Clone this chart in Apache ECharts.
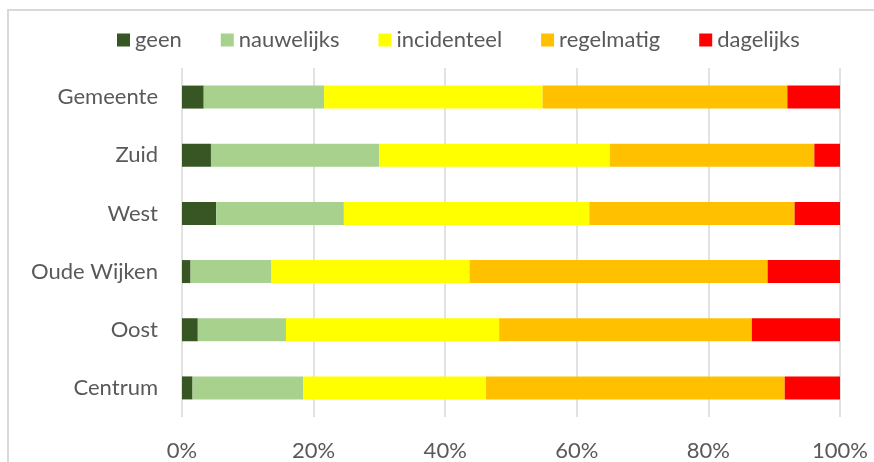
<!DOCTYPE html>
<html>
<head>
<meta charset="utf-8">
<script src="https://cdn.jsdelivr.net/npm/echarts@6/dist/echarts.min.js"></script>
<style>html,body{margin:0;padding:0;background:#fff;}#c{width:874px;height:462px;}</style>
</head>
<body>
<div id="c"></div>
<script>
var categories = ['Gemeente', 'Zuid', 'West', 'Oude Wijken', 'Oost', 'Centrum'];
var seriesNames = ['geen', 'nauwelijks', 'incidenteel', 'regelmatig', 'dagelijks'];
var geen        = [3.3, 4.4, 5.2, 1.3, 2.4, 1.6];
var nauwelijks  = [18.3, 25.6, 19.4, 12.3, 13.4, 16.8];
var incidenteel = [33.2, 35.0, 37.3, 30.1, 32.4, 27.8];
var regelmatig  = [37.2, 31.1, 31.2, 45.3, 38.4, 45.4];
var dagelijks   = [8.0, 3.9, 6.9, 11.0, 13.4, 8.4];
var tickLabels  = ['0%', '20%', '40%', '60%', '80%', '100%'];

var colors = ['#375623', '#A9D18E', '#FFFF00', '#FFC000', '#FF0000'];
var values = [geen, nauwelijks, incidenteel, regelmatig, dagelijks];
var font = 'Lato, sans-serif';
var fs = 22;

var chart = echarts.init(document.getElementById('c'), null, {renderer: 'canvas'});
chart.setOption({
  animation: false,
  backgroundColor: '#fff',
  graphic: [{
    type: 'rect', silent: true, z: -10,
    shape: {x: 8, y: 10, width: 900, height: 500},
    style: {fill: 'none', stroke: '#d9d9d9', lineWidth: 2}
  }],
  legend: {
    left: 112, top: 24,
    itemWidth: 13, itemHeight: 13, itemGap: 39,
    icon: 'rect',
    textStyle: {fontFamily: font, fontSize: fs, color: '#595959'},
    data: seriesNames
  },
  grid: {left: 182, right: 34, top: 68, bottom: 44.5, containLabel: false},
  xAxis: {
    type: 'value', min: 0, max: 100, interval: 20,
    axisLine: {show: false}, axisTick: {show: false},
    splitLine: {show: true, lineStyle: {color: '#d9d9d9', width: 1.5}},
    axisLabel: {
      fontFamily: font, fontSize: fs, color: '#595959', margin: 23,
      formatter: function (v) { return tickLabels[Math.round(v / 20)]; }
    }
  },
  yAxis: {
    type: 'category', inverse: true, data: categories,
    axisLine: {show: false}, axisTick: {show: false},
    axisLabel: {fontFamily: font, fontSize: fs, color: '#595959', margin: 24}
  },
  series: seriesNames.map(function (n, i) {
    return {
      name: n, type: 'bar', stack: 'total', barWidth: 23,
      itemStyle: {color: colors[i]},
      data: values[i]
    };
  })
});
</script>
</body>
</html>
